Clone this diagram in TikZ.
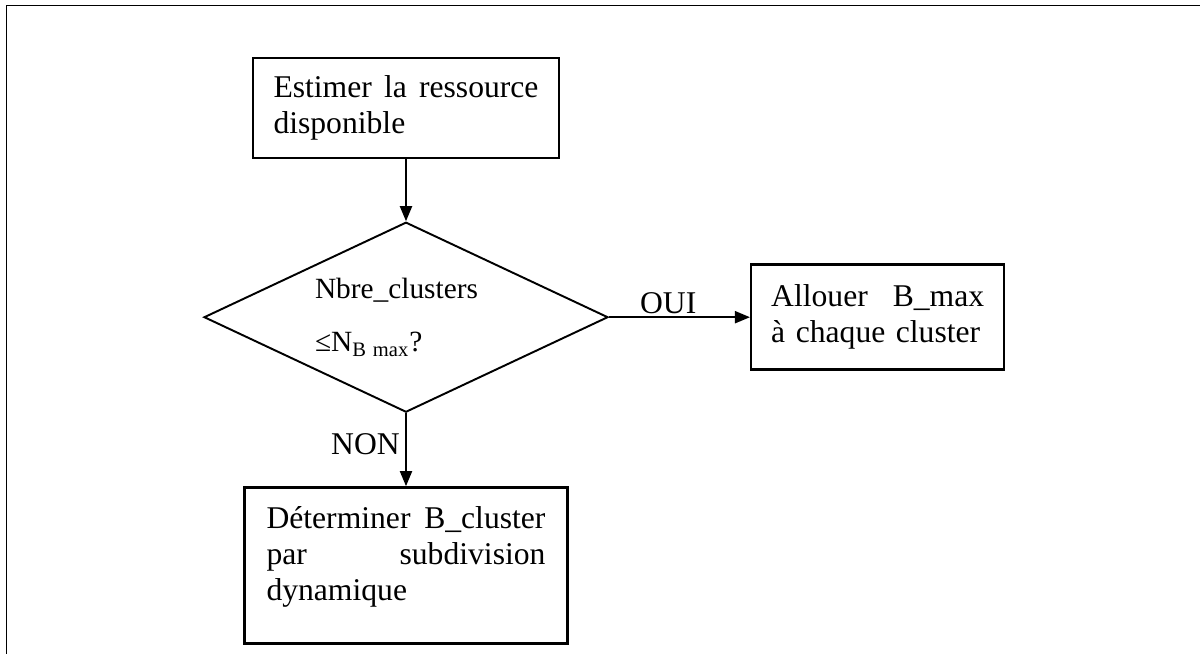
\documentclass[tikz,border=0pt]{standalone}
\usepackage{fontspec}
\setmainfont{Liberation Serif}
\usetikzlibrary{arrows.meta,positioning,shapes.geometric}

\begin{document}
\begin{tikzpicture}[->,>={Triangle[length=0.3cm,width=0.24cm]},auto,
                    line width=1.1pt,font=\fontsize{18}{20.5}\selectfont]
  \tikzset{box/.style={draw,-,line width=1.4pt,align=left,inner sep=0pt},
           test/.style={diamond,draw,-,aspect=2.2,inner sep=0pt,align=left,
                        text width=3.64cm,
                        minimum width=8.08cm,minimum height=3.8cm,
                        font=\fontsize{16.7}{20}\selectfont}}
  \useasboundingbox (0,0) rectangle (24,-13.08);
  % open frame (top and left only)
  \draw[-] (24,-0.11) -- (0.13,-0.11) -- (0.13,-13.08);

  \node[box,text width=5.3cm,minimum width=6.12cm,minimum height=2cm]
        (est) at (8.12,-2.16) {Estimer\hfill la\hfill ressource\\disponible};
  \node[test] (nb) [below=1.24cm of est]
        {Nbre\_clusters\\[0.36cm]≤N\textsubscript{B\hspace{0.14cm}max}?};
  \node[box,text width=4.26cm,minimum width=5.06cm,minimum height=2.1cm]
        (alloc) [right=2.82cm of nb] {Allouer\hfill B\_max\\à chaque cluster};
  \node[box,text width=5.58cm,minimum width=6.46cm,minimum height=3.12cm]
        (det) [below=1.46cm of nb]
        {Déterminer\hfill B\_cluster\\par\hfill subdivision\\dynamique\\[-0.25cm]\mbox{}};

  \path (est) edge (nb)
        (nb)  edge node[above,pos=0.42,inner sep=1.5pt] {OUI} (alloc)
        (nb)  edge node[left,pos=0.42,inner sep=3pt] {NON} (det);
\end{tikzpicture}
\end{document}
